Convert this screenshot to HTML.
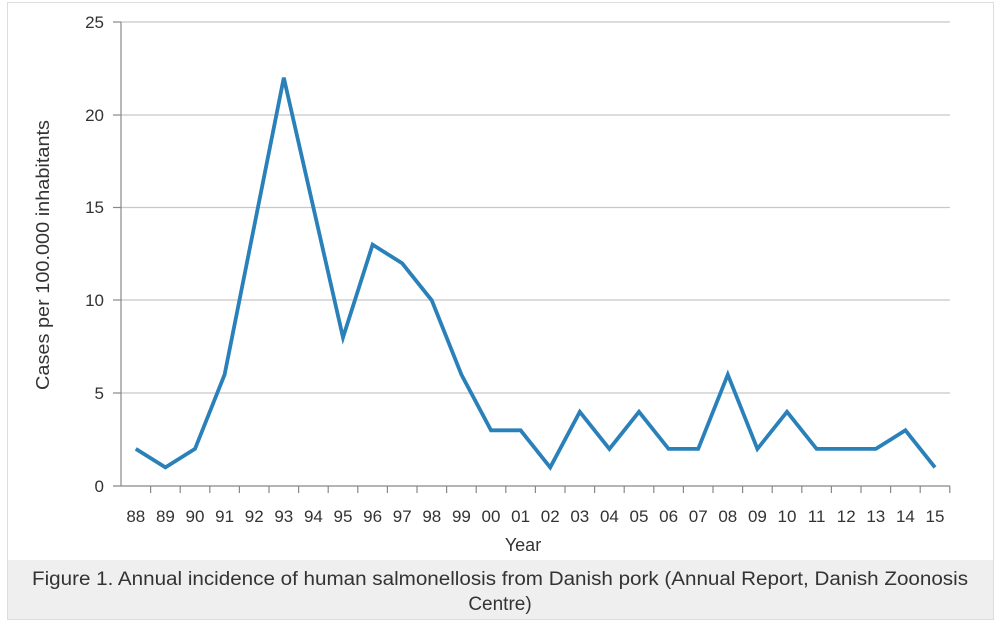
<!DOCTYPE html>
<html><head><style>
body{margin:0;background:#fff;}
svg{display:block;font-family:"Liberation Sans",sans-serif;}
</style></head><body>
<svg width="1000" height="623" xmlns="http://www.w3.org/2000/svg">
<rect x="7.5" y="2.5" width="986" height="617" fill="#fff" stroke="#ddd"/>
<rect x="8" y="560" width="985" height="59" fill="#efefef"/>
<g stroke="#c8c8c8" stroke-width="1.3">
<line x1="121" y1="22" x2="950" y2="22"/>
<line x1="121" y1="115" x2="950" y2="115"/>
<line x1="121" y1="207.5" x2="950" y2="207.5"/>
<line x1="121" y1="300" x2="950" y2="300"/>
<line x1="121" y1="393" x2="950" y2="393"/>
</g>
<g stroke="#888" stroke-width="1.2">
<line x1="121" y1="22" x2="121" y2="486"/>
<line x1="113" y1="486" x2="950" y2="486"/>
<line x1="113" y1="22" x2="121" y2="22"/><line x1="113" y1="115" x2="121" y2="115"/><line x1="113" y1="207.5" x2="121" y2="207.5"/><line x1="113" y1="300" x2="121" y2="300"/><line x1="113" y1="393" x2="121" y2="393"/>
</g>
<g id="ticks" stroke="#888" stroke-width="1.2"></g>
<g font-size="17" fill="#333" text-anchor="end">
<text x="104" y="28">25</text><text x="104" y="121">20</text><text x="104" y="213">15</text><text x="104" y="306">10</text><text x="104" y="399">5</text><text x="104" y="492">0</text>
</g>
<g id="xl" font-size="17" fill="#333" text-anchor="middle"></g>
<text x="523" y="551" font-size="18" fill="#333" text-anchor="middle">Year</text>
<text transform="translate(49,255) rotate(-90)" font-size="18" fill="#333" text-anchor="middle" textLength="270" lengthAdjust="spacingAndGlyphs">Cases per 100.000 inhabitants</text>
<polyline id="ln" fill="none" stroke="#2a80b9" stroke-width="3.8" stroke-linejoin="miter" points=""/>
<text x="500" y="585" font-size="19" fill="#333" text-anchor="middle" textLength="936" lengthAdjust="spacingAndGlyphs">Figure 1. Annual incidence of human salmonellosis from Danish pork (Annual Report, Danish Zoonosis</text>
<text x="500" y="610" font-size="19" fill="#333" text-anchor="middle">Centre)</text>
</svg>
<script>
var d=[2,1,2,6,14,22,15,8,13,12,10,6,3,3,1,4,2,4,2,2,6,2,4,2,2,2,3,1];
var lab=["88","89","90","91","92","93","94","95","96","97","98","99","00","01","02","03","04","05","06","07","08","09","10","11","12","13","14","15"];
var ns="http://www.w3.org/2000/svg",w=29.6,p=[];
var tk=document.getElementById('ticks'),xl=document.getElementById('xl');
for(var i=0;i<28;i++){var x=121+w*(i+0.5);p.push(x.toFixed(1)+','+(486-d[i]*18.56).toFixed(1));
var t=document.createElementNS(ns,'text');t.setAttribute('x',x);t.setAttribute('y',522);t.textContent=lab[i];xl.appendChild(t);
var l=document.createElementNS(ns,'line');var tx=121+w*(i+1);l.setAttribute('x1',tx);l.setAttribute('x2',tx);l.setAttribute('y1',486);l.setAttribute('y2',493);tk.appendChild(l);}
document.getElementById('ln').setAttribute('points',p.join(' '));
</script>
</body></html>
